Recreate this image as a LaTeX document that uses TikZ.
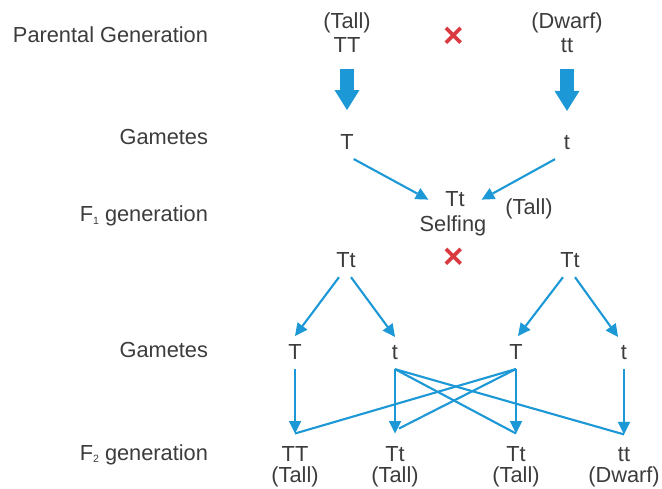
\documentclass[tikz,border=0pt]{standalone}
\usepackage{fontspec}
\setmainfont{Liberation Sans}
\usetikzlibrary{arrows.meta}
\definecolor{arrowblue}{HTML}{1B98D5}
\definecolor{crossred}{HTML}{D93A40}
\definecolor{textgray}{HTML}{3C3C3C}
\newcommand{\gensub}[1]{\raisebox{-0.25ex}{\fontsize{6}{7}\selectfont #1}}

\begin{document}
\begin{tikzpicture}[x=0.2mm, y=-0.2mm,
  every node/.style={inner sep=0pt, outer sep=0pt, anchor=base, text=textgray, font=\fontsize{12.4}{14}\selectfont},
  rowname/.style={anchor=base east},
  allele/.style={inner ysep=1.8mm},
  offspring/.style={inner ysep=2.5mm},
  cross/.style={anchor=center, text=crossred, font=\fontsize{20}{20}\selectfont\bfseries},
  bigarrow/.style={arrowblue, line width=2.8mm, shorten <=3.2mm, shorten >=3.2mm, -{Triangle[width=5mm, length=4mm, line width=0pt]}},
  arr/.style={arrowblue, line width=0.42mm, -{Triangle[width=2.5mm, length=2.5mm, line width=0pt]}},
  link/.style={arrowblue, line width=0.42mm}]
\useasboundingbox (0,0) rectangle (662,489);

\node[rowname] (rowP) at (208,43) {Parental Generation};
\node[rowname] (rowGa) at (208,145) {Gametes};
\node[rowname] (rowFa) at (208,222) {F\gensub{1} generation};
\node[rowname] (rowGb) at (208,358) {Gametes};
\node[rowname] (rowFb) at (208,460) {F\gensub{2} generation};

\node (tallP) at (347,29) {(Tall)};
\node (pTT) at (347,53) {TT};
\node[cross] (crossP) at (454,37) {×};
\node (dwarfP) at (567,29) {(Dwarf)};
\node (ptt) at (567,53) {tt};

\node[allele] (gT) at (347,150) {T};
\node[allele] (gt) at (567,150) {t};
\draw[bigarrow] (pTT.south) -- (gT.north);
\draw[bigarrow] (ptt.south) -- (gt.north);

\node[inner xsep=3.4mm] (fTt) at (455,207) {Tt};
\node (selfing) at (453,232) {Selfing};
\node (fTall) at (529,215) {(Tall)};
\draw[arr] (gT.south east) -- (fTt.west);
\draw[arr] ([xshift=-2.4mm]gt.south) -- (fTt.east);

\node[allele] (pL) at (346,268) {Tt};
\node[cross] (crossF) at (454,258) {×};
\node[allele] (pR) at (570,268) {Tt};

\node[allele] (gA) at (295,360) {T};
\node[allele] (gB) at (395,360) {t};
\node[allele] (gC) at (516,360) {T};
\node[allele] (gD) at (624,360) {t};
\draw[arr] ([xshift=-1.4mm]pL.south) -- (gA.north);
\draw[arr] ([xshift=1mm]pL.south) -- (gB.north);
\draw[arr] ([xshift=-1.4mm]pR.south) -- ([xshift=0.4mm]gC.north);
\draw[arr] ([xshift=1mm]pR.south) -- ([xshift=-1.2mm]gD.north);

\node[offspring] (fTT) at (295,461) {TT};
\node (tallA) at (295,482) {(Tall)};
\node[offspring] (fTta) at (395,461) {Tt};
\node (tallB) at (395,482) {(Tall)};
\node[offspring] (fTtb) at (516,461) {Tt};
\node (tallC) at (516,482) {(Tall)};
\node[offspring] (ftt) at (624,461) {tt};
\node (dwarfF) at (624,482) {(Dwarf)};

\draw[arr] (gA.south) -- (fTT.north);
\draw[arr] (gB.south) -- (fTta.north);
\draw[arr] (gC.south) -- (fTtb.north);
\draw[arr] (gD.south) -- (ftt.north);
\draw[link] (gC.south) -- (fTT.north);
\draw[link] (gC.south) -- ([xshift=0.8mm,yshift=1mm]fTta.north);
\draw[link] (gB.south) -- (fTtb.north);
\draw[link] (gB.south) -- (ftt.north);
\end{tikzpicture}
\end{document}
